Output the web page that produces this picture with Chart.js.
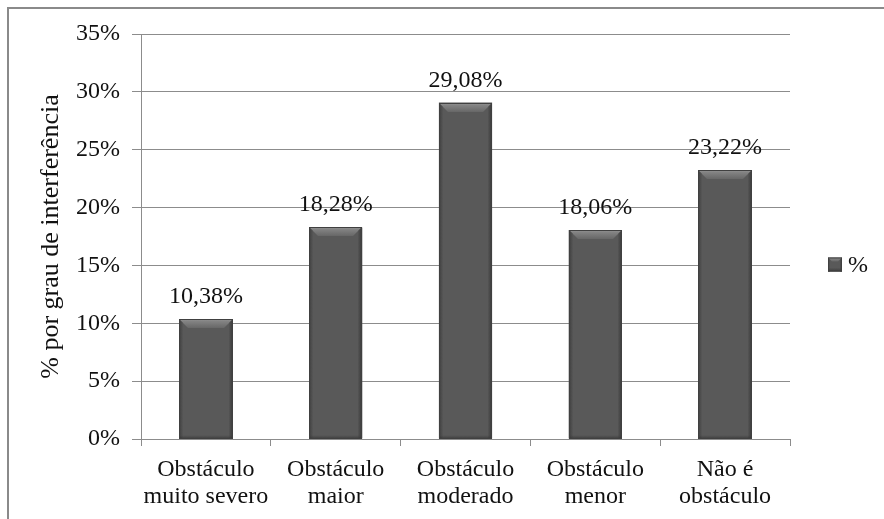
<!DOCTYPE html>
<html>
<head>
<meta charset="utf-8">
<script src="https://cdn.jsdelivr.net/npm/chart.js@4.4.1/dist/chart.umd.min.js"></script>
<style>
  html, body { margin: 0; padding: 0; background: #fff; overflow: hidden; }
  #frame { position: absolute; left: 7px; top: 7px; width: 900px; height: 540px; border: 2px solid #8a8a8a; }
  #wrap { position: absolute; left: 0; top: 0; width: 884px; height: 519px; }
</style>
</head>
<body>
<div id="frame"></div>
<div id="wrap"><canvas id="grau-chart"></canvas></div>
<script>
const categorias = [
    ["Obstáculo", "muito severo"],
    ["Obstáculo", "maior"],
    ["Obstáculo", "moderado"],
    ["Obstáculo", "menor"],
    ["Não é", "obstáculo"]
];
const percentuais = [10.38, 18.28, 29.08, 18.06, 23.22];
const ticksY = [0, 5, 10, 15, 20, 25, 30, 35];
const tituloY = "% por grau de interferência";
const serieNome = "%";

const serif = "'Liberation Serif', 'Times New Roman', serif";
const cinza = "#8c8c8c";

function fmt(v) {
    return v.toFixed(2).replace(".", ",") + "%";
}

// office style bevelled bar: flat face, light top wedge, darker sides
function bevel(ctx, left, right, top, bottom, b, s) {
    ctx.fillStyle = "#595959";
    ctx.fillRect(left, top, right - left, bottom - top);

    let g = ctx.createLinearGradient(0, top, 0, top + b);
    g.addColorStop(0, "#a0a0a0");
    g.addColorStop(0.2, "#858585");
    g.addColorStop(1, "#676767");
    ctx.fillStyle = g;
    ctx.beginPath();
    ctx.moveTo(left, top);
    ctx.lineTo(right, top);
    ctx.lineTo(right - b, top + b);
    ctx.lineTo(left + b, top + b);
    ctx.closePath();
    ctx.fill();

    g = ctx.createLinearGradient(left, 0, left + s, 0);
    g.addColorStop(0, "#3e3e3e");
    g.addColorStop(1, "#575757");
    ctx.fillStyle = g;
    ctx.beginPath();
    ctx.moveTo(left, top);
    ctx.lineTo(left + s, top + s);
    ctx.lineTo(left + s, bottom);
    ctx.lineTo(left, bottom);
    ctx.closePath();
    ctx.fill();

    g = ctx.createLinearGradient(right, 0, right - s, 0);
    g.addColorStop(0, "#383838");
    g.addColorStop(1, "#555555");
    ctx.fillStyle = g;
    ctx.beginPath();
    ctx.moveTo(right, top);
    ctx.lineTo(right - s, top + s);
    ctx.lineTo(right - s, bottom);
    ctx.lineTo(right, bottom);
    ctx.closePath();
    ctx.fill();

    g = ctx.createLinearGradient(0, bottom - 4, 0, bottom);
    g.addColorStop(0, "rgba(60,60,60,0)");
    g.addColorStop(1, "rgba(50,50,50,0.8)");
    ctx.fillStyle = g;
    ctx.fillRect(left, bottom - 4, right - left, 4);

    ctx.strokeStyle = "#404040";
    ctx.lineWidth = 1;
    ctx.strokeRect(left + 0.5, top + 0.5, right - left - 1, bottom - top - 1);
}

const barrasPlugin = {
    id: "barras",
    afterDatasetsDraw(chart) {
        const ctx = chart.ctx;
        const meta = chart.getDatasetMeta(0);
        ctx.save();
        meta.data.forEach((bar, i) => {
            const l = bar.x - bar.width / 2, r = bar.x + bar.width / 2;
            bevel(ctx, Math.round(l), Math.round(r), Math.round(bar.y), Math.round(bar.base), 9, 4);
            ctx.fillStyle = "#111";
            ctx.font = "24px " + serif;
            ctx.textAlign = "center";
            ctx.textBaseline = "alphabetic";
            ctx.fillText(fmt(percentuais[i]), bar.x, bar.y - 16);
        });
        ctx.restore();
    }
};

const legendaPlugin = {
    id: "legenda",
    afterDraw(chart) {
        const ctx = chart.ctx;
        const x = chart.chartArea.right + 38;
        const y = chart.height / 2 + 5;
        ctx.save();
        bevel(ctx, x, x + 14, y - 7, y + 7, 4, 2);
        ctx.fillStyle = "#111";
        ctx.font = "24px " + serif;
        ctx.textAlign = "left";
        ctx.textBaseline = "middle";
        ctx.fillText(serieNome, x + 20, y + 1);
        ctx.restore();
    }
};

new Chart(document.getElementById("grau-chart"), {
    type: "bar",
    data: {
        labels: categorias,
        datasets: [{
            label: serieNome,
            data: percentuais,
            backgroundColor: "#595959",
            borderWidth: 0,
            barPercentage: 0.41,
            categoryPercentage: 1
        }]
    },
    options: {
        responsive: true,
        maintainAspectRatio: false,
        animation: false,
        layout: { padding: { left: 0, right: 94, top: 34, bottom: 0 } },
        plugins: {
            legend: { display: false },
            tooltip: { enabled: false }
        },
        scales: {
            x: {
                grid: { drawOnChartArea: false, drawTicks: true, tickLength: 7, color: cinza, offset: true },
                border: { color: cinza },
                ticks: { color: "#111", font: { family: serif, size: 24, lineHeight: 1.12 }, padding: 10, maxRotation: 0, autoSkip: false },
                afterFit(scale) { scale.height = 80; }
            },
            y: {
                min: 0,
                max: 35,
                grid: { color: cinza, tickLength: 9 },
                border: { color: cinza },
                afterBuildTicks(scale) { scale.ticks = ticksY.map(v => ({ value: v })); },
                ticks: {
                    color: "#111",
                    font: { family: serif, size: 24 },
                    padding: 12,
                    callback: v => v + "%"
                },
                title: {
                    display: true,
                    text: tituloY,
                    color: "#111",
                    font: { family: serif, size: 26 },
                    padding: { top: 36, bottom: 0 }
                },
                afterFit(scale) { scale.width = 141; }
            }
        }
    },
    plugins: [barrasPlugin, legendaPlugin]
});
</script>
</body>
</html>
